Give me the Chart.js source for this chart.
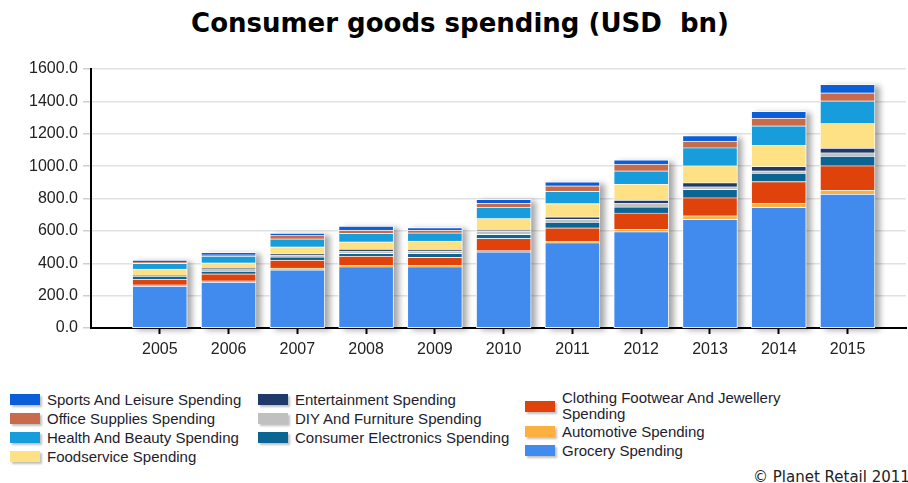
<!DOCTYPE html>
<html>
<head>
<meta charset="utf-8">
<script src="https://cdn.jsdelivr.net/npm/chart.js@4.4.1/dist/chart.umd.min.js"></script>
<style>
  body { margin: 0; width: 908px; height: 483px; overflow: hidden; background: #fff; position: relative; font-family: "Liberation Sans", Arial, sans-serif; }
  #title { position: absolute; left: 0; top: 8px; width: 920px; text-align: center; font: bold 26px "DejaVu Sans"; color: #000; white-space: pre; }
  #wrap { position: absolute; left: 0; top: 0; width: 908px; height: 372px; }
  .legcol { position: absolute; top: 390px; }
  .item { display: flex; align-items: center; min-height: 19px; }
  .sw { width: 30px; height: 11px; flex: none; margin-right: 7px; box-shadow: 2px 2px 2px rgba(0,0,0,0.25); }
  .lbl { font-size: 15px; line-height: 16px; color: #1d1d2d; }
  #copy { position: absolute; left: 753px; top: 468px; font: 15px "DejaVu Sans"; color: #222; white-space: nowrap; }
</style>
</head>
<body>
<div id="title">Consumer goods spending (USD  bn)</div>
<div id="wrap"><canvas id="chart" width="908" height="372"></canvas></div>
<div id="legend"></div>
<div id="copy">© Planet Retail 2011</div>
<script>
// datos (USD bn)
var years = [2005, 2006, 2007, 2008, 2009, 2010, 2011, 2012, 2013, 2014, 2015];
var yTicks = [0, 200, 400, 600, 800, 1000, 1200, 1400, 1600];

var grocery       = [259, 284, 360, 379, 379, 470, 527, 595, 672, 746, 828];
var automotive    = [8, 8, 11, 8, 8, 8, 10, 15, 22, 25, 24];
var clothing      = [35, 43, 49, 58, 50, 76, 82, 101, 111, 134, 151];
var electronics   = [18, 17, 19, 17, 25, 25, 35, 37, 52, 52, 59];
var diy           = [4, 10, 10, 14, 12, 18, 18, 23, 16, 14, 21];
var entertainment = [4, 8, 10, 10, 8, 8, 15, 19, 25, 27, 29];
var foodservice   = [37, 33, 43, 47, 56, 72, 82, 99, 105, 132, 152];
var healthBeauty  = [35, 41, 49, 52, 50, 68, 76, 82, 111, 119, 140];
var officeSupply  = [8, 8, 21, 20, 17, 25, 33, 41, 41, 48, 49];
var sportsLeisure = [10, 15, 15, 25, 16, 25, 25, 27, 33, 41, 52];

// orden de apilado: de abajo hacia arriba
var seriesNames = [
  'Grocery Spending',
  'Automotive Spending',
  'Clothing Footwear And Jewellery Spending',
  'Consumer Electronics Spending',
  'DIY And Furniture Spending',
  'Entertainment Spending',
  'Foodservice Spending',
  'Health And Beauty Spending',
  'Office Supplies Spending',
  'Sports And Leisure Spending'
];
var seriesData = [grocery, automotive, clothing, electronics, diy, entertainment,
                  foodservice, healthBeauty, officeSupply, sportsLeisure];
var seriesColors = ['#418bee', '#fbb040', '#e0420c', '#0b6592', '#c0c0c0',
                    '#1f3a68', '#fde184', '#179ddb', '#c86a4c', '#0a5ed7'];

var datasets = seriesData.map(function(vals, i) {
  return {
    label: seriesNames[i],
    data: years.map(function(y, j) { return { x: y, y: vals[j] }; }),
    backgroundColor: seriesColors[i],
    borderColor: 'rgba(255,255,255,0.3)',
    borderWidth: 1,
    barThickness: 55
  };
});

// sombra gris detras de cada columna
var barShadow = {
  id: 'barShadow',
  beforeDatasetsDraw: function(chart) {
    var ctx = chart.ctx;
    var top = chart.getDatasetMeta(chart.data.datasets.length - 1);
    var base = chart.scales.y.getPixelForValue(0);
    ctx.save();
    ctx.shadowColor = 'rgba(0,0,0,0.35)';
    ctx.shadowBlur = 6;
    ctx.shadowOffsetX = 5;
    ctx.shadowOffsetY = 2;
    ctx.fillStyle = '#fff';
    top.data.forEach(function(bar) {
      var p = bar.getProps(['x', 'y', 'width'], true);
      ctx.fillRect(p.x - p.width / 2, p.y, p.width, base - p.y);
    });
    ctx.restore();
  }
};

new Chart(document.getElementById('chart'), {
  type: 'bar',
  data: { datasets: datasets },
  plugins: [barShadow],
  options: {
    responsive: false,
    animation: false,
    devicePixelRatio: 1,
    layout: { padding: { top: 69, right: 2, left: 0, bottom: 0 } },
    plugins: { legend: { display: false }, tooltip: { enabled: false }, title: { display: false } },
    scales: {
      x: {
        type: 'linear',
        stacked: true,
        offset: false,
        min: 2004,
        max: 2015.85,
        afterBuildTicks: function(scale) {
          scale.ticks = years.map(function(y) { return { value: y }; });
        },
        afterFit: function(scale) { scale.height = 44; },
        grid: { offset: false, drawOnChartArea: false, tickColor: '#000', tickLength: 6, tickWidth: 2 },
        border: { color: '#000', width: 2 },
        ticks: {
          padding: 6,
          color: '#222',
          font: { family: 'Liberation Sans', size: 16 },
          callback: function(v) { return String(v); }
        }
      },
      y: {
        stacked: true,
        min: 0,
        max: 1600,
        afterBuildTicks: function(scale) {
          scale.ticks = yTicks.map(function(v) { return { value: v }; });
        },
        afterFit: function(scale) { scale.width = 91; },
        grid: { color: '#e2e2e2', lineWidth: 1.5, tickColor: '#cfcfcf', tickLength: 8 },
        border: { color: '#000', width: 2 },
        ticks: {
          padding: 5,
          color: '#222',
          font: { family: 'Liberation Sans', size: 16 },
          callback: function(v) { return v.toFixed(1); }
        }
      }
    }
  }
});

// leyenda en tres columnas (orden inverso al apilado)
var legendOrder = seriesNames.map(function(n, i) { return i; }).reverse();
var colSizes = [4, 3, 3];
var colLeft = [10, 258, 525];
var colTextWidth = [235, 240, 236];
var legend = document.getElementById('legend');
var k = 0;
colSizes.forEach(function(size, c) {
  var col = document.createElement('div');
  col.className = 'legcol';
  col.style.left = colLeft[c] + 'px';
  for (var n = 0; n < size; n++) {
    var idx = legendOrder[k++];
    var item = document.createElement('div');
    item.className = 'item';
    var sw = document.createElement('div');
    sw.className = 'sw';
    sw.style.background = seriesColors[idx];
    var lbl = document.createElement('div');
    lbl.className = 'lbl';
    lbl.style.width = colTextWidth[c] + 'px';
    lbl.textContent = seriesNames[idx];
    item.appendChild(sw);
    item.appendChild(lbl);
    col.appendChild(item);
  }
  legend.appendChild(col);
});
</script>
</body>
</html>
